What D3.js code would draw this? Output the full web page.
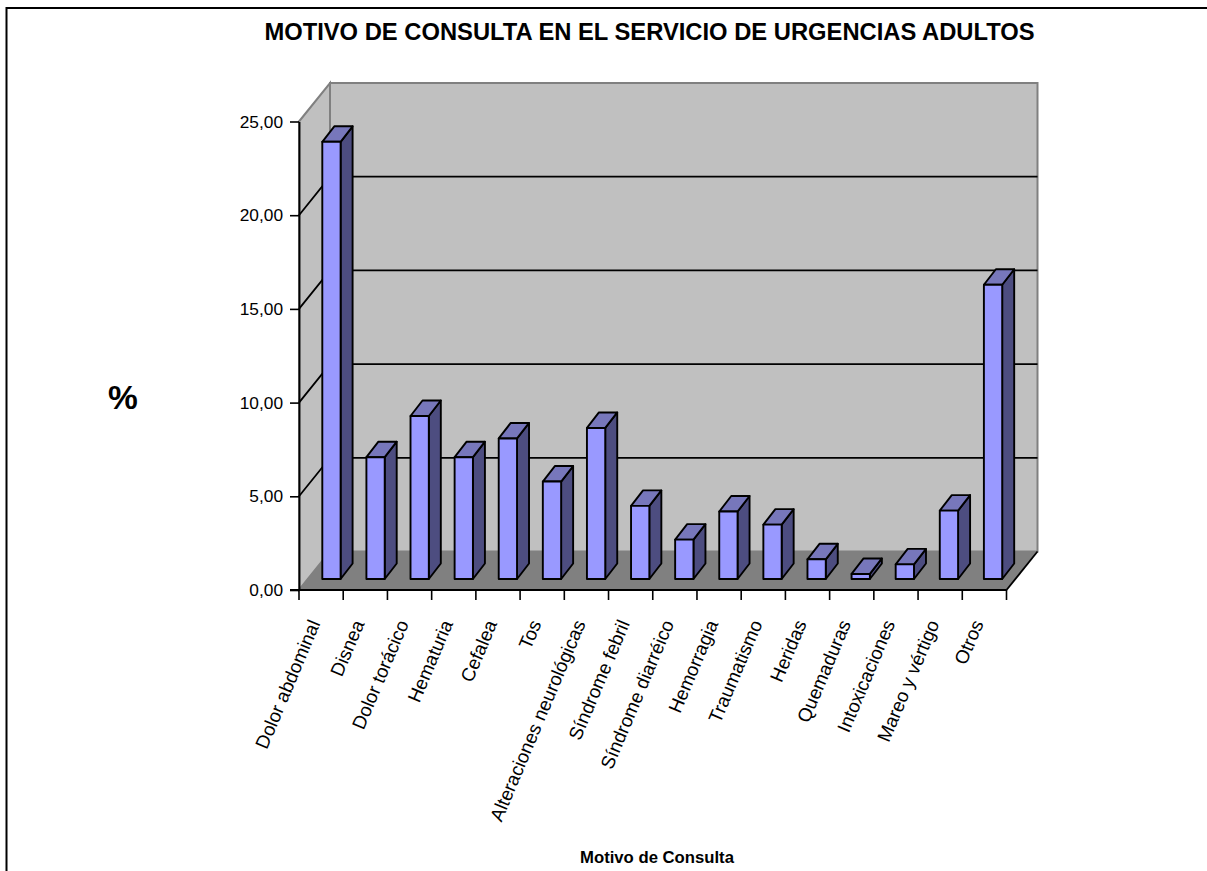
<!DOCTYPE html>
<html><head><meta charset="utf-8">
<script src="https://cdn.jsdelivr.net/npm/d3@7/dist/d3.min.js"></script>
<style>html,body{margin:0;padding:0;background:#fff}svg{display:block}text{font-family:"Liberation Sans",Arial,sans-serif;fill:#000}</style>
</head><body><div id="c"></div>
<script>
const categories=["Dolor abdominal","Disnea","Dolor torácico","Hematuria","Cefalea","Tos","Alteraciones neurológicas","Síndrome febril","Síndrome diarréico","Hemorragia","Traumatismo","Heridas","Quemaduras","Intoxicaciones","Mareo y vértigo","Otros"];
const values=[23.33,6.5,8.7,6.5,7.5,5.2,8.06,3.9,2.1,3.6,2.9,1.05,0.27,0.78,3.65,15.7];
const yTicks=[0,5,10,15,20,25];
const titleText="MOTIVO DE CONSULTA EN EL SERVICIO DE URGENCIAS ADULTOS";
const xTitle="Motivo de Consulta", yTitle="%";

const W=1207,H=871;
const pLeft=299,pRight=1006.5,pBottom=590,pTop=121.5,dx=31,dy=-38.5;
const x=d3.scaleBand().domain(categories).range([pLeft,pRight]);
const barX=d3.scaleBand().domain(categories).range([322.3,1028]);
const y=d3.scaleLinear().domain([0,25]).range([pBottom,pTop]);
const barW=18.3,barDx=12,barDy=-15.5,barBase=-11;
const fmt=d=>d3.format(".2f")(d).replace(".",",");

const svg=d3.select("#c").append("svg").attr("width",W).attr("height",H);
const P=a=>a.map(p=>p.join(",")).join(" ");
svg.append("path").attr("d",`M6.5,${H}V8H${W}`).attr("fill","none").attr("stroke","#000").attr("stroke-width",2);

const wallBottom=pBottom+dy,wallTop=pTop+dy;
svg.append("polygon").attr("points",P([[pLeft+dx,wallTop],[pRight+dx,wallTop],[pRight+dx,wallBottom],[pLeft+dx,wallBottom]])).attr("fill","#c0c0c0").attr("stroke","#808080").attr("stroke-width",2);
svg.append("polygon").attr("points",P([[pLeft,pTop],[pLeft+dx,wallTop],[pLeft+dx,wallBottom],[pLeft,pBottom]])).attr("fill","#c0c0c0").attr("stroke","#808080").attr("stroke-width",2);
svg.append("polygon").attr("points",P([[pLeft,pBottom],[pLeft+dx,wallBottom],[pRight+dx,wallBottom],[pRight,pBottom]])).attr("fill","#808080");
const grid=svg.append("g");
yTicks.filter(t=>t>0&&t<25).forEach(t=>{
  grid.append("path").attr("d",`M${pLeft},${y(t)}L${pLeft+dx},${y(t)+dy}H${pRight+dx}`).attr("fill","none").attr("stroke","#000").attr("stroke-width",1.8);
});
svg.append("path").attr("d",`M${pRight},${pBottom}L${pRight+dx},${wallBottom}`).attr("stroke","#000").attr("stroke-width",1.8).attr("fill","none");

const bars=svg.append("g").selectAll("g").data(categories).join("g");
const stroke={stroke:"#000","stroke-width":1.9,"stroke-linejoin":"round"};
const hBar=v=>y(0)-y(v);
function face(sel,fill,pts){const p=sel.append("polygon").attr("fill",fill).attr("points",pts);Object.entries(stroke).forEach(([k,v])=>p.attr(k,v));}
bars.each(function(c,i){
  const g=d3.select(this),v=values[i];
  const xl=barX(c),xr=xl+barW,yb=pBottom+barBase,yt=yb-hBar(v);
  face(g,"#4d4d80",P([[xr,yt],[xr+barDx,yt+barDy],[xr+barDx,yb+barDy],[xr,yb]]));
  face(g,"#7777bb",P([[xl,yt],[xl+barDx,yt+barDy],[xr+barDx,yt+barDy],[xr,yt]]));
  face(g,"#9999ff",P([[xl,yt],[xr,yt],[xr,yb],[xl,yb]]));
});

const yAxis=d3.axisLeft(y).tickValues(yTicks).tickFormat(fmt).tickSize(9).tickSizeOuter(0).tickPadding(7);
const yg=svg.append("g").attr("transform",`translate(${pLeft},0)`).call(yAxis);
const xTickPos=d3.range(categories.length+1).map(i=>pLeft+x.step()*i);
const xg=svg.append("g").attr("transform",`translate(0,${pBottom})`);
xg.append("path").attr("d",`M${pLeft-9},0H${pRight}`).attr("stroke","#000").attr("stroke-width",1.9);
xg.selectAll("line").data(xTickPos).join("line").attr("x1",d=>d).attr("x2",d=>d).attr("y1",0).attr("y2",10).attr("stroke","#000").attr("stroke-width",1.6);
yg.selectAll("path.domain").attr("stroke","#000").attr("stroke-width",1.9);
yg.selectAll("line").attr("stroke","#000").attr("stroke-width",1.6);
yg.selectAll("text").attr("font-size",17.3).attr("font-family",'"Liberation Sans",Arial,sans-serif').attr("fill","#000");

svg.append("g").selectAll("text").data(categories).join("text")
 .attr("transform",c=>`translate(${x(c)+x.step()/2-0.5},623.5) rotate(-67)`)
 .attr("text-anchor","end").attr("font-size",18.9).text(c=>c);

svg.append("text").attr("x",649.5).attr("y",40).attr("text-anchor","middle").attr("font-size",23.75).attr("font-weight","bold").text(titleText);
svg.append("text").attr("x",123).attr("y",409).attr("text-anchor","middle").attr("font-size",33.5).attr("font-weight","bold").text(yTitle);
svg.append("text").attr("x",657).attr("y",863).attr("text-anchor","middle").attr("font-size",16.7).attr("font-weight","bold").text(xTitle);
</script></body></html>
